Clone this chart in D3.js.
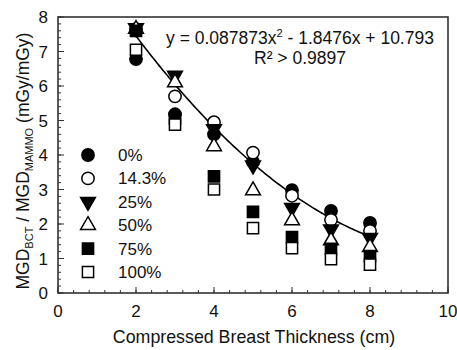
<!DOCTYPE html>
<html>
<head>
<meta charset="utf-8">
<script src="https://cdn.jsdelivr.net/npm/d3@7"></script>
<style>
  html, body { margin: 0; padding: 0; background: #fff; }
  svg text { font-family: "Liberation Sans", Arial, sans-serif; fill: #111; }
</style>
</head>
<body>
<svg id="chart" width="457" height="350"></svg>
<script>
// Breast thickness (cm) at which dose ratios were computed
const thickness = [2, 3, 4, 5, 6, 7, 8];

// Glandular fraction groups, one series each
const seriesNames = ["0%", "14.3%", "25%", "50%", "75%", "100%"];
const glandular0   = [6.78, 5.18, 4.60, 3.80, 2.98, 2.38, 2.03];
const glandular14  = [7.65, 5.70, 4.95, 4.07, 2.82, 2.12, 1.80];
const glandular25  = [7.68, 6.30, 4.75, 3.70, 2.47, 1.85, 1.60];
const glandular50  = [7.65, 6.10, 4.25, 2.97, 2.10, 1.52, 1.33];
const glandular75  = [7.60, 5.05, 3.38, 2.35, 1.62, 1.28, 1.07];
const glandular100 = [7.05, 4.88, 3.00, 1.88, 1.30, 0.98, 0.82];

// Quadratic trend y = a x^2 + b x + c
const fitCoef = [0.087873, -1.8476, 10.793];
const fitRange = [2, 8];
const r2Text = "R\u00B2 > 0.9897";

const xTicks = [0, 2, 4, 6, 8, 10];
const yTicks = [0, 1, 2, 3, 4, 5, 6, 7, 8];

const allSeries = [glandular0, glandular14, glandular25, glandular50, glandular75, glandular100];
const markerStyle = [
  { type: d3.symbolCircle,   size: 120, fill: "#000", rot: 0 },
  { type: d3.symbolCircle,   size: 120, fill: "#fff", rot: 0 },
  { type: d3.symbolTriangle, size: 95,  fill: "#000", rot: 180 },
  { type: d3.symbolTriangle, size: 95,  fill: "#fff", rot: 0 },
  { type: d3.symbolSquare,   size: 125, fill: "#000", rot: 0 },
  { type: d3.symbolSquare,   size: 125, fill: "#fff", rot: 0 }
];

const svg = d3.select("#chart");
const plotL = 58, plotR = 448, plotT = 17, plotB = 293;

const x = d3.scaleLinear().domain([0, 10]).range([plotL, plotR]);
const y = d3.scaleLinear().domain([0, 8]).range([plotB, plotT]);

// Plot frame
svg.append("rect")
  .attr("x", plotL).attr("y", plotT)
  .attr("width", plotR - plotL).attr("height", plotB - plotT)
  .attr("fill", "none").attr("stroke", "#333").attr("stroke-width", 1.6);

// Inward minor and major ticks
const xMinor = d3.range(0, 10.001, 0.4);
const yMinor = d3.range(0, 8.001, 0.2);
const tickG = svg.append("g").attr("stroke", "#333").attr("stroke-width", 1);
tickG.selectAll(".xm").data(xMinor).join("line")
  .attr("x1", d => x(d)).attr("x2", d => x(d))
  .attr("y1", plotB).attr("y2", plotB - 3);
tickG.selectAll(".xM").data(xTicks).join("line")
  .attr("x1", d => x(d)).attr("x2", d => x(d))
  .attr("y1", plotB).attr("y2", plotB - 6);
tickG.selectAll(".ym").data(yMinor).join("line")
  .attr("x1", plotL).attr("x2", plotL + 3)
  .attr("y1", d => y(d)).attr("y2", d => y(d));
tickG.selectAll(".yM").data(yTicks).join("line")
  .attr("x1", plotL).attr("x2", plotL + 6)
  .attr("y1", d => y(d)).attr("y2", d => y(d));

// Tick labels
svg.append("g").selectAll("text").data(xTicks).join("text")
  .attr("x", d => x(d)).attr("y", plotB + 24)
  .attr("text-anchor", "middle").attr("font-size", 17)
  .text(d => d);
svg.append("g").selectAll("text").data(yTicks).join("text")
  .attr("x", plotL - 10).attr("y", d => y(d) + 6)
  .attr("text-anchor", "end").attr("font-size", 17)
  .text(d => d);

// Axis titles
svg.append("text")
  .attr("x", (plotL + plotR) / 2 + 1).attr("y", 343)
  .attr("text-anchor", "middle").attr("font-size", 17.8)
  .text("Compressed Breast Thickness (cm)");

const yTitle = svg.append("text")
  .attr("transform", `translate(29,${(plotT + plotB) / 2 + 6}) rotate(-90)`)
  .attr("text-anchor", "middle").attr("font-size", 17.5);
yTitle.append("tspan").text("MGD");
yTitle.append("tspan").attr("font-size", 11).attr("dy", 4).text("BCT");
yTitle.append("tspan").attr("dy", -4).text(" / MGD");
yTitle.append("tspan").attr("font-size", 11).attr("dy", 4).text("MAMMO");
yTitle.append("tspan").attr("dy", -4).text(" (mGy/mGy)");

// Fitted curve
const fitX = d3.range(fitRange[0], fitRange[1] + 0.001, 0.05);
const fitLine = d3.line()
  .x(d => x(d))
  .y(d => y(fitCoef[0] * d * d + fitCoef[1] * d + fitCoef[2]));
svg.append("path").datum(fitX)
  .attr("d", fitLine).attr("fill", "none")
  .attr("stroke", "#000").attr("stroke-width", 1.6);

// Data markers
const sym = d3.symbol();
allSeries.forEach((vals, i) => {
  const st = markerStyle[i];
  svg.append("g").selectAll("path").data(vals).join("path")
    .attr("transform", (d, j) => `translate(${x(thickness[j])},${y(d)}) rotate(${st.rot})`)
    .attr("d", sym.type(st.type).size(st.size)())
    .attr("fill", st.fill).attr("stroke", "#000").attr("stroke-width", 1.5);
});

// Legend
const legend = svg.append("g");
seriesNames.forEach((name, i) => {
  const st = markerStyle[i];
  const ly = 155 + i * 23.4;
  legend.append("path")
    .attr("transform", `translate(88,${ly}) rotate(${st.rot})`)
    .attr("d", sym.type(st.type).size(st.size)())
    .attr("fill", st.fill).attr("stroke", "#000").attr("stroke-width", 1.5);
  legend.append("text")
    .attr("x", 118).attr("y", ly + 6)
    .attr("font-size", 17).text(name);
});

// Trend equation
const eq = svg.append("text").attr("x", 300).attr("y", 44)
  .attr("text-anchor", "middle").attr("font-size", 17.5);
eq.append("tspan").text(`y = ${fitCoef[0]}x`);
eq.append("tspan").attr("font-size", 11).attr("dy", -7).text("2");
eq.append("tspan").attr("dy", 7).text(` - ${-fitCoef[1]}x + ${fitCoef[2]}`);
svg.append("text").attr("x", 300).attr("y", 64)
  .attr("text-anchor", "middle").attr("font-size", 17.5)
  .text(r2Text);
</script>
</body>
</html>
